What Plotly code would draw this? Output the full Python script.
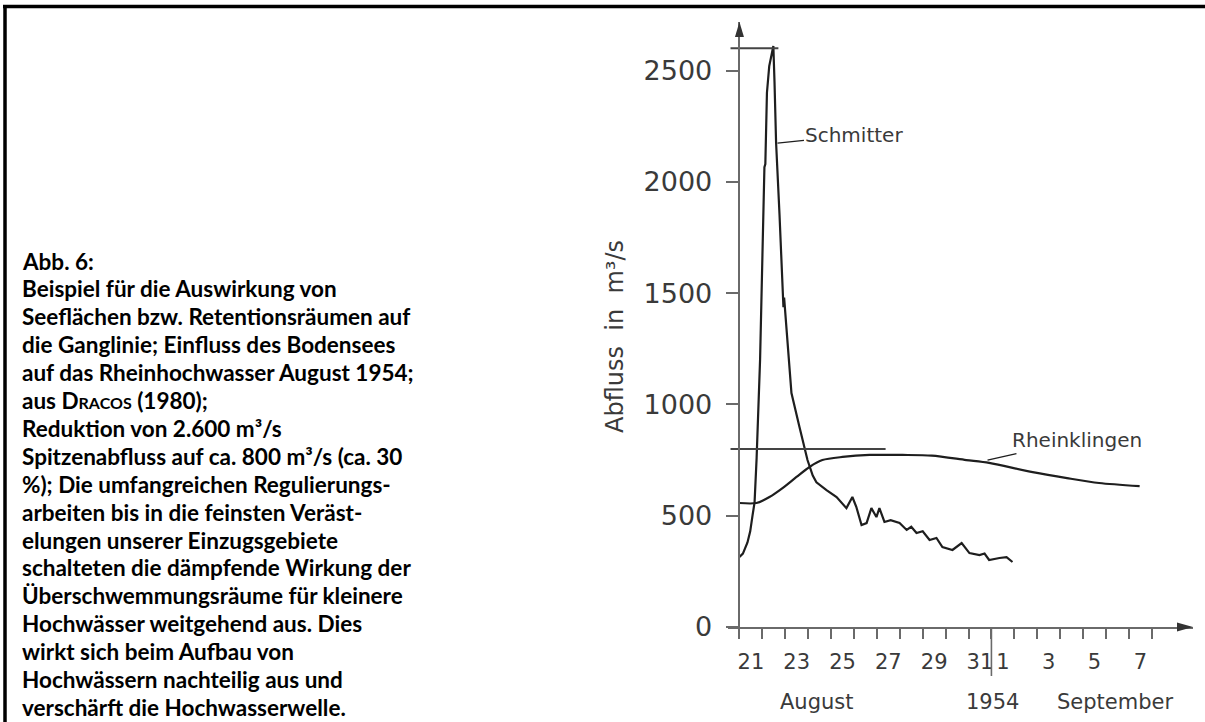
import plotly.graph_objects as go

# ---------------- data (days after 21 Aug 1954 00:00, discharge m3/s) ----------------
schmitter_day = [0.00, 0.15, 0.35, 0.47, 0.57, 0.66, 0.75, 0.82, 0.90, 1.09, 1.13, 1.20, 1.30,
                 1.42, 1.48, 1.53, 1.60, 1.75, 1.88, 1.92, 1.95, 2.18, 2.27, 2.62, 2.97, 3.20,
                 3.36, 3.80, 4.24, 4.67, 4.93, 5.10, 5.33, 5.55, 5.76, 5.98, 6.11, 6.33, 6.60,
                 6.99, 7.30, 7.50, 7.73, 8.00, 8.30, 8.60, 8.86, 9.30, 9.70, 10.04, 10.48,
                 10.70, 10.90, 11.35, 11.66, 11.92]
schmitter_q = [314, 330, 380, 430, 500, 560, 760, 1000, 1200, 2066, 2080, 2400, 2520,
               2580, 2610, 2450, 2174, 1850, 1514, 1437, 1480, 1200, 1051, 898, 750, 680,
               650, 615, 584, 534, 584, 540, 458, 467, 534, 494, 534, 472, 480,
               467, 436, 450, 422, 430, 391, 400, 359, 346, 377, 332, 323,
               330, 301, 310, 314, 292]

rhein_day = [0.00, 0.74, 1.31, 1.88, 2.49, 3.06, 3.62, 4.50, 5.68, 7.12, 8.40, 9.90,
             10.90, 12.80, 14.30, 15.70, 17.47]
rhein_q = [557, 557, 584, 624, 674, 719, 750, 764, 773, 773, 770, 750,
           737, 696, 669, 647, 633]

peak_line_day = [-0.39, 1.70]
peak_line_q = [2600, 2600]
reduced_line_day = [-0.39, 6.38]
reduced_line_q = [800, 800]

y_ticks = [0, 500, 1000, 1500, 2000, 2500]
x_tick_days = list(range(19))
x_label_days = [0, 2, 4, 6, 8, 10, 11, 13, 15, 17]
x_label_text = ["21", "23", "25", "27", "29", "31", "1", "3", "5", "7"]
month_labels = ["August", "1954", "September"]
month_label_days = [3.4, 11.05, 16.4]
month_boundary_day = 11

y_title = "Abfluss  in  m³/s"
series_names = ["Schmitter", "Rheinklingen"]

caption_lines = [
    "Abb. 6:",
    "Beispiel für die Auswirkung von",
    "Seeflächen bzw. Retentionsräumen auf",
    "die Ganglinie; Einfluss des Bodensees",
    "auf das Rheinhochwasser August 1954;",
    "aus D<span style='font-size:16px'>RACOS</span> (1980);",
    "Reduktion von 2.600 m³/s",
    "Spitzenabfluss auf ca. 800 m³/s (ca. 30",
    "%); Die umfangreichen Regulierungs-",
    "arbeiten bis in die feinsten Veräst-",
    "elungen unserer Einzugsgebiete",
    "schalteten die dämpfende Wirkung der",
    "Überschwemmungsräume für kleinere",
    "Hochwässer weitgehend aus. Dies",
    "wirkt sich beim Aufbau von",
    "Hochwässern nachteilig aus und",
    "verschärft die Hochwasserwelle.",
]

# ---------------- layout geometry ----------------
W, H = 1205, 722
L, R, T, B = 728, 1193, 22, 627
X_RANGE = [-0.5, 19.8]
Y_RANGE = [0, 2718]


def px(x):
    return (x - L) / (R - L)


def py(y):
    return (B - y) / (B - T)


def day_px(d):
    return L + (d - X_RANGE[0]) / (X_RANGE[1] - X_RANGE[0]) * (R - L)


INK = "#1e1e1e"
AXIS = "#6a6a6a"
TXT = "#3a3a3a"
FONT = "DejaVu Sans"

fig = go.Figure()

fig.add_trace(go.Scatter(x=schmitter_day, y=schmitter_q, mode="lines",
                         line=dict(color=INK, width=2.2), name=series_names[0],
                         showlegend=False, hoverinfo="skip"))
fig.add_trace(go.Scatter(x=rhein_day, y=rhein_q, mode="lines",
                         line=dict(color=INK, width=2.2, shape="spline", smoothing=0.8),
                         name=series_names[1], showlegend=False, hoverinfo="skip"))
fig.add_trace(go.Scatter(x=peak_line_day, y=peak_line_q, mode="lines",
                         line=dict(color="#444444", width=2), showlegend=False, hoverinfo="skip"))
fig.add_trace(go.Scatter(x=reduced_line_day, y=reduced_line_q, mode="lines",
                         line=dict(color="#444444", width=2), showlegend=False, hoverinfo="skip"))
# invisible trace to carry the label axis
fig.add_trace(go.Scatter(x=[d + 0.5 for d in x_label_days], y=[None] * len(x_label_days),
                         xaxis="x2", mode="markers", showlegend=False, hoverinfo="skip"))

fig.update_layout(
    width=W, height=H, autosize=False,
    margin=dict(l=L, r=W - R, t=T, b=H - B, pad=0),
    paper_bgcolor="white", plot_bgcolor="white",
    xaxis=dict(range=X_RANGE, showgrid=False, zeroline=False, showline=True,
               linecolor=AXIS, linewidth=1.6, ticks="outside", ticklen=10, tickwidth=1.6,
               tickcolor=AXIS, tickvals=x_tick_days, showticklabels=False, fixedrange=True),
    xaxis2=dict(range=X_RANGE, overlaying="x", anchor="y", side="bottom", showgrid=False,
                zeroline=False, showline=False, ticks="outside", ticklen=16,
                tickcolor="rgba(0,0,0,0)", tickvals=[d + 0.5 for d in x_label_days],
                ticktext=x_label_text, tickfont=dict(family=FONT, size=21, color=TXT),
                fixedrange=True),
    yaxis=dict(range=Y_RANGE, showgrid=False, zeroline=False, showline=True,
               linecolor=AXIS, linewidth=1.6, ticks="outside", ticklen=13, tickwidth=1.6,
               tickcolor=AXIS, tickvals=y_ticks, ticktext=[str(v) for v in y_ticks],
               tickfont=dict(family=FONT, size=27, color=TXT), ticklabelstandoff=8,
               anchor="free", position=px(day_px(0)), fixedrange=True),
)

shapes = []
# long boundary tick between 31 Aug and 1 Sep
shapes.append(dict(type="line", xref="x", yref="paper", x0=month_boundary_day, x1=month_boundary_day,
                   y0=0, y1=py(676), line=dict(color=AXIS, width=1.6)))
# axis arrowheads
x0a = day_px(0)
shapes.append(dict(type="path", xref="paper", yref="paper",
                   path=f"M {px(x0a)},{py(T)} L {px(x0a - 4.5)},{py(T + 15)} L {px(x0a + 4.5)},{py(T + 15)} Z",
                   fillcolor="#333333", line=dict(width=0)))
shapes.append(dict(type="path", xref="paper", yref="paper",
                   path=f"M {px(R)},{py(B)} L {px(R - 16)},{py(B - 4.5)} L {px(R - 16)},{py(B + 4.5)} Z",
                   fillcolor="#333333", line=dict(width=0)))
# page frame (top and left)
shapes.append(dict(type="line", xref="paper", yref="paper", x0=px(3), x1=px(W + 5), y0=py(6.5), y1=py(6.5),
                   line=dict(color="black", width=3.5)))
shapes.append(dict(type="line", xref="paper", yref="paper", x0=px(5), x1=px(5), y0=py(5), y1=py(H + 5),
                   line=dict(color="black", width=3.5)))
fig.update_layout(shapes=shapes)

annotations = []
# y-axis title
annotations.append(dict(xref="paper", yref="paper", x=px(615), y=py(337), text=y_title,
                        textangle=-90, showarrow=False, xanchor="center", yanchor="middle",
                        font=dict(family=FONT, size=24, color=TXT)))
# month / year labels
for lab, d in zip(month_labels, month_label_days):
    annotations.append(dict(xref="x", yref="paper", x=d, y=py(702), text=lab, showarrow=False,
                            xanchor="center", yanchor="middle",
                            font=dict(family=FONT, size=21, color=TXT)))
# series labels with leaders
annotations.append(dict(xref="x", yref="y", x=1.66, y=2174, text=series_names[0], showarrow=True,
                        arrowhead=0, arrowwidth=1.3, arrowcolor=INK, axref="pixel", ayref="pixel",
                        ax=77, ay=-8, font=dict(family=FONT, size=20, color=TXT)))
annotations.append(dict(xref="x", yref="y", x=10.83, y=750, text=series_names[1], showarrow=True,
                        arrowhead=0, arrowwidth=1.3, arrowcolor=INK, axref="pixel", ayref="pixel",
                        ax=89, ay=-20, font=dict(family=FONT, size=20, color=TXT)))
# caption block, one annotation per line
CAP_TOP, CAP_STEP = 261, 27.9
for i, line in enumerate(caption_lines):
    annotations.append(dict(xref="paper", yref="paper", x=px(20), y=py(CAP_TOP + i * CAP_STEP),
                            xanchor="left", yanchor="middle", align="left", showarrow=False,
                            text="<b>" + line + "</b>",
                            font=dict(family="Lato", size=22.5, color="black")))
fig.update_layout(annotations=annotations)

fig.write_html("out.html", config={"displayModeBar": False},
               post_script="document.body.style.margin='0';document.body.style.overflow='hidden';")
